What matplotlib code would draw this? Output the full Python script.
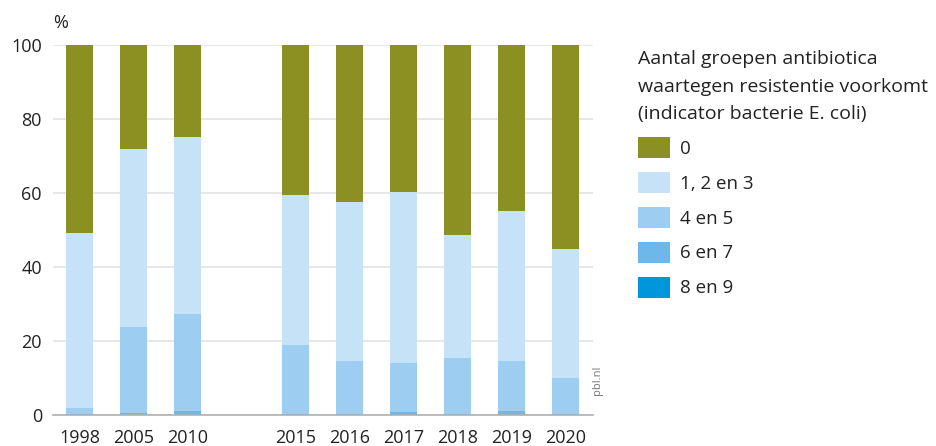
import numpy as np
import matplotlib
matplotlib.use("Agg")
import matplotlib.pyplot as plt
from matplotlib.patches import Patch

plt.rcParams['font.family'] = ['Open Sans', 'DejaVu Sans']

years = ['1998', '2005', '2010', '2015', '2016', '2017', '2018', '2019', '2020']
# slot index per year; 2011-2014 left empty
slots = [0, 1, 2, 4, 5, 6, 7, 8, 9]

# share of isolates (%) by number of resistant antibiotic groups
groups = ['0', '1, 2 en 3', '4 en 5', '6 en 7', '8 en 9']
res_8_9 = [0.0, 0.0, 0.0, 0.0, 0.0, 0.0, 0.0, 0.0, 0.0]
res_6_7 = [0.2, 0.5, 1.0, 0.3, 0.3, 0.8, 0.3, 1.0, 0.2]
res_4_5 = [1.6, 23.2, 26.3, 18.7, 14.4, 13.3, 15.2, 13.5, 9.8]
res_1_3 = [47.3, 48.0, 47.7, 40.4, 42.9, 46.0, 33.1, 40.5, 34.9]
res_0 = [50.9, 28.3, 25.0, 40.6, 42.4, 39.9, 51.4, 45.0, 55.1]

colors = {
    '0': '#8c8f22',
    '1, 2 en 3': '#c6e2f7',
    '4 en 5': '#9dcef2',
    '6 en 7': '#6cb8ea',
    '8 en 9': '#0096db',
}

fig = plt.figure(figsize=(9.37, 4.46), dpi=100)
ax = fig.add_axes([53 / 937, 31 / 446, 540 / 937, 370.5 / 446])

stack = [('8 en 9', res_8_9), ('6 en 7', res_6_7), ('4 en 5', res_4_5),
         ('1, 2 en 3', res_1_3), ('0', res_0)]
bottom = np.zeros(len(years))
for name, vals in stack:
    vals = np.array(vals)
    ax.bar(slots, vals, width=0.5, bottom=bottom, color=colors[name],
           linewidth=0, zorder=3)
    bottom += vals

ax.set_xlim(-0.5, 9.5)
ax.set_ylim(0, 100)
ax.set_yticks(range(0, 101, 20))
ax.set_xticks(slots)
ax.set_xticklabels(years)
ax.tick_params(axis='both', length=0, labelsize=13, colors='#222222')
ax.tick_params(axis='x', pad=10)
ax.tick_params(axis='y', pad=8)
ax.grid(axis='y', color='#e3e3e3', linewidth=1.2, zorder=0)
for side in ['top', 'right', 'left']:
    ax.spines[side].set_visible(False)
ax.spines['bottom'].set_color('#b0b0b0')
ax.spines['bottom'].set_linewidth(1.2)
ax.spines['bottom'].set_zorder(4)

fig.text(53 / 937, 1 - 28 / 446, '%', fontsize=13, color='#222222')
fig.text(598 / 937, 1 - 380 / 446, 'pbl.nl', fontsize=8, color='#777777',
         rotation=90, va='center', ha='center')

handles = [Patch(facecolor=colors[g], edgecolor='none') for g in groups]
leg = fig.legend(handles, groups, loc='upper left',
                 bbox_to_anchor=(638 / 937, 1 - 50 / 446),
                 frameon=False, fontsize=13.5, title_fontsize=14,
                 title='Aantal groepen antibiotica\nwaartegen resistentie voorkomt\n(indicator bacterie E. coli)',
                 alignment='left', borderpad=0, borderaxespad=0,
                 handlelength=1.7, handleheight=1.35, labelspacing=0.74,
                 handletextpad=0.55)
leg.get_title().set_color('#222222')
leg.get_title().set_linespacing(1.68)
for t in leg.get_texts():
    t.set_color('#222222')

fig.savefig('out.png', dpi=100)
